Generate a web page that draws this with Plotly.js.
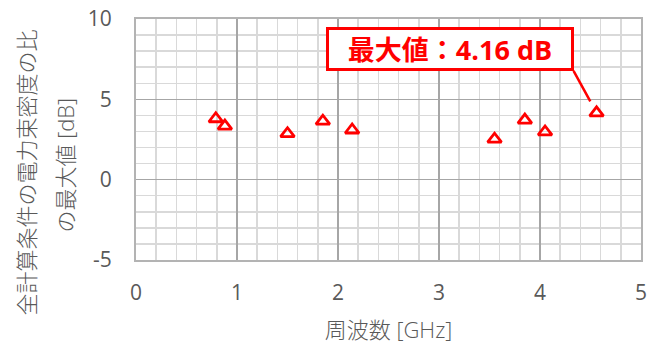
<!DOCTYPE html>
<html><head><meta charset="utf-8">
<script src="https://cdn.plot.ly/plotly-3.0.1.min.js"></script>
<style>html,body{margin:0;padding:0;background:#fff;} #chart{width:649px;height:344px;}</style>
</head><body><div id="chart"></div>
<script>
// ---- data ----
const freqGHz    = [0.79, 0.88, 1.50, 1.85, 2.14, 3.55, 3.85, 4.05, 4.56];
const maxRatioDb = [3.79, 3.33, 2.86, 3.64, 3.09, 2.52, 3.71, 2.97, 4.16];
const xTickVals  = [0, 1, 2, 3, 4, 5];
const xTickText  = ['0', '1', '2', '3', '4', '5'];
const yTickVals  = [-5, 0, 5, 10];
const yTickText  = ['-5', '0', '5', '10'];
const yTitleLines = ['全計算条件の電力束密度の比', 'の最大値 [dB]'];
const xTitle = '周波数 [GHz]';
const calloutText = '最大値：4.16 dB';

// ---- chart ----
const FONT = '"Open Sans", "Noto Sans CJK JP", sans-serif';
const maxIdx = maxRatioDb.indexOf(Math.max(...maxRatioDb));
const RED = '#ff0000';
const GREY = '#595959';

const trace = {
  x: freqGHz, y: maxRatioDb, type: 'scatter', mode: 'markers',
  marker: {symbol: 'triangle-up-open', size: 12, color: RED, line: {width: 2.8, color: RED}},
  hoverinfo: 'skip', showlegend: false, cliponaxis: false
};

const layout = {
  width: 649, height: 344,
  margin: {l: 136, r: 8, t: 19, b: 84, pad: 0},
  paper_bgcolor: '#ffffff', plot_bgcolor: '#ffffff',
  font: {family: FONT, color: GREY, size: 21},
  showlegend: false,
  xaxis: {
    range: [0, 5], tickmode: 'array', tickvals: xTickVals, ticktext: xTickText,
    ticks: '', ticklabelstandoff: 13,
    showgrid: true, gridcolor: '#a6a6a6', gridwidth: 1.3,
    zeroline: false, showline: true, mirror: true, linecolor: '#b3b3b3', linewidth: 2,
    minor: {tick0: 0, dtick: 0.2, showgrid: true, gridcolor: '#d9d9d9', gridwidth: 1.5},
    title: {text: xTitle, font: {size: 22, color: GREY, weight: 300}, standoff: 20},
    fixedrange: true
  },
  yaxis: {
    range: [-5, 10], tickmode: 'array', tickvals: yTickVals, ticktext: yTickText,
    ticks: '', ticklabelstandoff: 18,
    showgrid: true, gridcolor: '#a6a6a6', gridwidth: 1.3,
    zeroline: false, showline: true, mirror: true, linecolor: '#b3b3b3', linewidth: 2,
    minor: {tick0: 0, dtick: 1, showgrid: true, gridcolor: '#d9d9d9', gridwidth: 1.5},
    fixedrange: true
  },
  annotations: [
    {
      xref: 'paper', yref: 'paper', x: 0, y: 0.5, xshift: -111, yshift: -33,
      xanchor: 'center', yanchor: 'middle',
      text: yTitleLines[0], textangle: -90, showarrow: false,
      font: {size: 22, color: GREY, family: FONT, weight: 300}
    },
    {
      xref: 'paper', yref: 'paper', x: 0, y: 0.5, xshift: -72, yshift: -26,
      xanchor: 'center', yanchor: 'middle',
      text: yTitleLines[1], textangle: -90, showarrow: false,
      font: {size: 22, color: GREY, family: FONT, weight: 300}
    },
    {
      xref: 'x', yref: 'y', x: freqGHz[maxIdx], y: maxRatioDb[maxIdx],
      text: '<b>' + calloutText + '</b>', showarrow: true,
      ax: -23, ay: -42, xanchor: 'right', yanchor: 'bottom',
      arrowhead: 0, arrowwidth: 2.5, arrowcolor: RED, standoff: 13,
      width: 242, height: 38, align: 'center', valign: 'middle',
      bordercolor: RED, borderwidth: 3, borderpad: 0, bgcolor: '#ffffff',
      font: {size: 27, color: RED, family: FONT}
    }
  ]
};

Plotly.newPlot('chart', [trace], layout, {staticPlot: true, displayModeBar: false});
</script>
</body></html>
